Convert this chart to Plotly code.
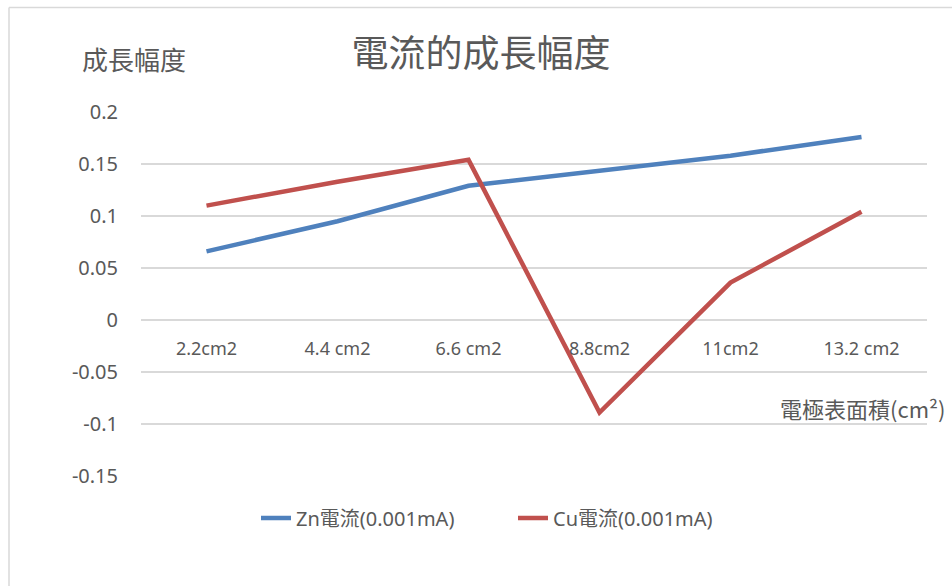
import plotly.graph_objects as go

# ---- data ----
categories = ["2.2cm2", "4.4 cm2", "6.6 cm2", "8.8cm2", "11cm2", "13.2 cm2"]
zn_current = [0.066, 0.095, 0.129, 0.143, 0.158, 0.176]
cu_current = [0.110, 0.133, 0.154, -0.089, 0.036, 0.104]
y_ticks = [0.2, 0.15, 0.1, 0.05, 0, -0.05, -0.1, -0.15]
y_tick_labels = ["0.2", "0.15", "0.1", "0.05", "0", "-0.05", "-0.1", "-0.15"]
series_names = ["Zn電流(0.001mA)", "Cu電流(0.001mA)"]

W, H = 952, 586
L, R, T, B = 141, 927, 112, 476  # plot area pixels

def px_x(p):
    return (p - L) / (R - L)

def px_y(p):
    return (B - p) / (B - T)

FONT = "Noto Sans, Noto Sans CJK TC, sans-serif"
CJK = "Noto Sans CJK TC, Noto Sans, sans-serif"
GREY = "#595959"
GRID = "#D9D9D9"

fig = go.Figure()
fig.add_trace(go.Scatter(x=categories, y=zn_current, mode="lines", name=series_names[0],
                         line=dict(color="#4F81BD", width=4.5)))
fig.add_trace(go.Scatter(x=categories, y=cu_current, mode="lines", name=series_names[1],
                         line=dict(color="#C0504D", width=4.5)))

fig.update_layout(
    width=W, height=H,
    margin=dict(l=L, r=W - R, t=T, b=H - B, pad=0),
    paper_bgcolor="white", plot_bgcolor="white",
    font=dict(family=FONT, color=GREY),
    showlegend=True,
    legend=dict(orientation="h", x=px_x(256), y=px_y(518), xanchor="left", yanchor="middle",
                font=dict(family=FONT, size=20, color=GREY), bgcolor="rgba(0,0,0,0)",
                entrywidth=212, entrywidthmode="pixels"),
    title=dict(text="電流的成長幅度", x=px_x(481), xanchor="center", xref="paper",
               y=1 - 54 / H, yanchor="middle", yref="container",
               font=dict(family=CJK, size=37, color=GREY)),
    xaxis=dict(type="category", range=[-0.5, 5.5], showgrid=False, zeroline=False,
               showline=False, ticks="", anchor="free", position=px_y(319),
               tickfont=dict(family=FONT, size=18, color=GREY), ticklabelstandoff=17),
    yaxis=dict(range=[-0.15, 0.2], tickvals=y_ticks, ticktext=y_tick_labels,
               showgrid=True, gridcolor=GRID, gridwidth=1.5, zeroline=True,
               zerolinecolor=GRID, zerolinewidth=1.5, showline=False, ticks="",
               tickfont=dict(family=FONT, size=20, color=GREY), ticklabelstandoff=22),
    annotations=[
        dict(text="成長幅度", xref="paper", yref="paper", x=px_x(134), y=px_y(58),
             xanchor="center", yanchor="middle", showarrow=False,
             font=dict(family=CJK, size=26, color=GREY)),
        dict(text="電極表面積(cm²)", xref="paper", yref="paper", x=px_x(948), y=px_y(408),
             xanchor="right", yanchor="middle", showarrow=False,
             font=dict(family=CJK, size=22, color=GREY)),
    ],
    shapes=[
        dict(type="line", xref="paper", yref="paper", x0=px_x(9), x1=px_x(952),
             y0=px_y(7.5), y1=px_y(7.5), line=dict(color=GRID, width=1.5)),
        dict(type="line", xref="paper", yref="paper", x0=px_x(9), x1=px_x(9),
             y0=px_y(7.5), y1=px_y(586), line=dict(color=GRID, width=1.5)),
    ],
)

fig.write_html("out.html")
